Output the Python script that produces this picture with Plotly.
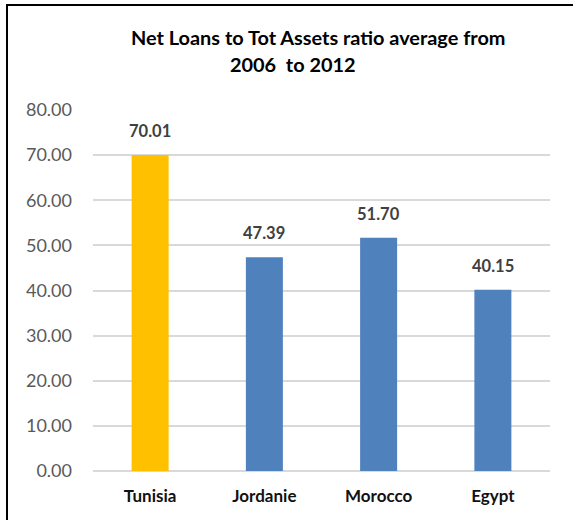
import plotly.graph_objects as go

# Net loans to total assets, average 2006-2012 (%)
countries = ["Tunisia", "Jordanie", "Morocco", "Egypt"]
ratios = [70.01, 47.39, 51.70, 40.15]
bar_colors = ["#FFC000", "#4F81BD", "#4F81BD", "#4F81BD"]
y_ticks = [0, 10, 20, 30, 40, 50, 60, 70, 80]
tick_labels = [f"{v:.2f}" for v in y_ticks]

W, H = 573, 520
ML, MR, MT, MB = 93, 23, 110, 49
pw, ph = W - ML - MR, H - MT - MB


def px_x(p):
    return (p - ML) / pw


def px_y(p):
    return (H - MB - p) / ph


fig = go.Figure()
fig.add_trace(go.Bar(
    x=countries, y=ratios,
    marker=dict(color=bar_colors, line=dict(width=0)),
    hoverinfo="skip",
))

# value labels above each bar
for c, v in zip(countries, ratios):
    fig.add_annotation(
        x=c, y=v, text=f"<b>{v:.2f}</b>", showarrow=False,
        yanchor="bottom", yshift=12,
        font=dict(family="Lato", size=16.5, color="#404040"),
    )

# two-line chart title
fig.add_annotation(
    xref="paper", yref="paper", x=px_x(318), y=px_y(37),
    text="<b>Net Loans to Tot Assets ratio average from</b>",
    showarrow=False, xanchor="center", yanchor="middle",
    font=dict(family="Lato", size=19.9, color="#000000"),
)
fig.add_annotation(
    xref="paper", yref="paper", x=px_x(293), y=px_y(64),
    text="<b>2006  to 2012</b>".replace("  ", "&nbsp; "),
    showarrow=False, xanchor="center", yanchor="middle",
    font=dict(family="Lato", size=19.9, color="#000000"),
)

# outer frame (left and top edges)
fig.add_shape(type="line", xref="paper", yref="paper",
              x0=px_x(7), x1=px_x(7), y0=px_y(5), y1=px_y(530),
              line=dict(color="#000000", width=2))
fig.add_shape(type="line", xref="paper", yref="paper",
              x0=px_x(6), x1=px_x(590), y0=px_y(5), y1=px_y(5),
              line=dict(color="#000000", width=2))

fig.update_layout(
    width=W, height=H,
    margin=dict(l=ML, r=MR, t=MT, b=MB, pad=0),
    paper_bgcolor="white", plot_bgcolor="white",
    bargap=0.676, showlegend=False,
    font=dict(family="Lato"),
)
fig.update_xaxes(
    showgrid=False, showline=False, zeroline=False, ticks="",
    tickfont=dict(family="Lato", size=17, color="#111111", weight="bold"),
    ticklabelstandoff=13,
)
fig.update_yaxes(
    range=[0, 80], tickvals=y_ticks, ticktext=tick_labels,
    showgrid=True, gridcolor="#D9D9D9", gridwidth=2,
    zeroline=True, zerolinecolor="#D9D9D9", zerolinewidth=2,
    showline=False, ticks="",
    tickfont=dict(family="Lato", size=18, color="#595959"),
    ticklabelstandoff=20,
)

fig.write_html("out.html")
